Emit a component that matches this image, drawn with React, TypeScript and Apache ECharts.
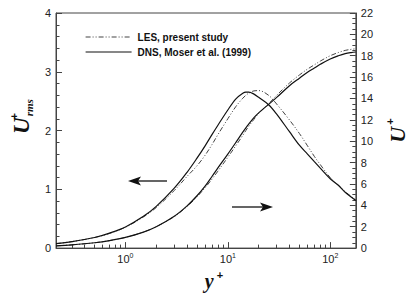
import React, { useEffect, useRef } from "react";
import * as echarts from "echarts";

const yPlus = [0.21, 0.3, 0.5, 0.7, 1, 1.5, 2, 3, 4, 5, 6, 7, 8, 10, 12, 14, 15, 16, 18, 20, 25, 30, 40, 50, 60, 70, 80, 100, 120, 140, 160, 178];

const dnsUrms = [0.075, 0.11, 0.18, 0.255, 0.36, 0.54, 0.71, 1.02, 1.29, 1.53, 1.74, 1.93, 2.09, 2.35, 2.54, 2.635, 2.655, 2.655, 2.62, 2.565, 2.44, 2.28, 1.98, 1.75, 1.6, 1.47, 1.36, 1.18, 1.07, 0.95, 0.87, 0.81];
const lesUrms = [0.075, 0.11, 0.18, 0.25, 0.355, 0.53, 0.69, 0.98, 1.22, 1.4, 1.58, 1.76, 1.93, 2.2, 2.41, 2.55, 2.6, 2.635, 2.675, 2.68, 2.6, 2.45, 2.18, 1.95, 1.74, 1.56, 1.42, 1.2, 1.07, 0.96, 0.88, 0.82];
const dnsU = [0.21, 0.3, 0.5, 0.7, 1.0, 1.5, 2.0, 2.98, 3.95, 4.9, 5.8, 6.7, 7.5, 8.8, 9.9, 10.85, 11.25, 11.6, 12.2, 12.65, 13.45, 14.1, 15.2, 15.9, 16.45, 16.85, 17.2, 17.7, 18.0, 18.2, 18.3, 18.35];
const lesU = [0.21, 0.3, 0.5, 0.7, 1.0, 1.5, 2.0, 2.95, 3.9, 4.8, 5.65, 6.45, 7.2, 8.5, 9.6, 10.55, 11.0, 11.4, 12.05, 12.6, 13.5, 14.3, 15.45, 16.2, 16.75, 17.15, 17.5, 18.0, 18.3, 18.5, 18.6, 18.65];

const xMajorTicks = [1, 10, 100];
const xMinorTicks = [0.3, 0.4, 0.5, 0.6, 0.7, 0.8, 0.9, 2, 3, 4, 5, 6, 7, 8, 9, 20, 30, 40, 50, 60, 70, 80, 90];
const legendNames = ["LES, present study", "DNS, Moser et al. (1999)"];

const pair = (xs: number[], ys: number[]) => xs.map((x, i) => [x, ys[i]]);

const AXIS_COLOR = "#444";
const SANS = "Liberation Sans, Arial, sans-serif";
const SERIF = "Liberation Serif, Times New Roman, serif";
const LES_DASH = [5, 2, 1, 2, 1, 2];

export default function App() {
  const ref = useRef<HTMLDivElement>(null);
  useEffect(() => {
    if (!ref.current) return;
    const chart = echarts.init(ref.current, null, { renderer: "svg" });
    const tickLabel = { color: "#222", fontSize: 11, fontFamily: SANS };
    const lesStyle = { color: "#444", width: 1, type: LES_DASH };
    const dnsStyle = { color: "#111", width: 1.2 };
    chart.setOption({
      animation: false,
      backgroundColor: "#fff",
      grid: { left: 54, right: 53, top: 13, bottom: 41, show: true, borderColor: AXIS_COLOR, borderWidth: 1 },
      legend: {
        data: legendNames,
        orient: "vertical",
        left: 80,
        top: 27,
        itemWidth: 46,
        itemHeight: 10,
        itemGap: 5,
        itemStyle: { opacity: 0, borderWidth: 0 },
        lineStyle: { width: 1.2 },
        textStyle: { fontSize: 10, fontWeight: "bold", fontFamily: SANS, color: "#111", padding: [0, 0, 0, 1] },
      },
      xAxis: [
        {
          type: "log",
          logBase: 10,
          min: 0.21,
          max: 178,
          position: "bottom",
          axisLine: { show: true, lineStyle: { color: AXIS_COLOR, width: 1 } },
          axisTick: { show: true, inside: true, length: 6, customValues: xMajorTicks, lineStyle: { color: AXIS_COLOR } },
          axisLabel: {
            customValues: xMajorTicks,
            margin: 4,
            formatter: (v: number) => `{b|10}{s|${Math.round(Math.log10(v))}}`,
            rich: {
              b: { ...tickLabel, fontSize: 11 },
              s: { ...tickLabel, fontSize: 7, verticalAlign: "top", padding: [0, 0, 6, 0] },
            },
          },
          splitLine: { show: false },
          minorSplitLine: { show: false },
          name: "{y|y}{p|+}",
          nameLocation: "middle",
          nameGap: 14,
          nameTextStyle: {
            padding: [0, 0, 0, 16],
            rich: {
              y: { fontFamily: SERIF, fontWeight: "bold", fontStyle: "italic", fontSize: 20, color: "#111", lineHeight: 24 },
              p: { fontFamily: SANS, fontWeight: "bold", fontSize: 11, color: "#111", verticalAlign: "top", padding: [0, 0, 0, 3] },
            },
          },
        },
        {
          type: "log",
          logBase: 10,
          min: 0.21,
          max: 178,
          position: "bottom",
          axisLine: { show: false },
          axisTick: { show: true, inside: true, length: 3.5, customValues: xMinorTicks, lineStyle: { color: AXIS_COLOR } },
          axisLabel: { show: false },
          splitLine: { show: false },
        },
      ],
      yAxis: [
        {
          type: "value",
          min: 0,
          max: 4,
          interval: 1,
          position: "left",
          axisLine: { show: true, lineStyle: { color: AXIS_COLOR } },
          axisTick: { show: true, inside: true, length: 6, lineStyle: { color: AXIS_COLOR } },
          minorTick: { show: true, splitNumber: 5, length: 3.5, lineStyle: { color: AXIS_COLOR } },
          axisLabel: { ...tickLabel, margin: 5 },
          splitLine: { show: false },
          name: "{u|U}{p|+}{r|rms}",
          nameLocation: "middle",
          nameRotate: 90,
          nameGap: 17,
          nameTextStyle: {
            padding: [0, 0, 0, 28],
            rich: {
              u: { fontFamily: SERIF, fontWeight: "bold", fontStyle: "italic", fontSize: 23, color: "#111", lineHeight: 26 },
              p: { fontFamily: SANS, fontWeight: "bold", fontSize: 11, color: "#111", verticalAlign: "top", width: 0, align: "left", padding: [0, 0, 0, 1] },
              r: { fontFamily: SERIF, fontWeight: "bold", fontStyle: "italic", fontSize: 11, color: "#111", verticalAlign: "bottom" },
            },
          },
        },
        {
          type: "value",
          min: 0,
          max: 22,
          interval: 2,
          position: "right",
          axisLine: { show: true, lineStyle: { color: AXIS_COLOR } },
          axisTick: { show: true, inside: true, length: 6, lineStyle: { color: AXIS_COLOR } },
          minorTick: { show: true, splitNumber: 4, length: 3.5, lineStyle: { color: AXIS_COLOR } },
          axisLabel: { ...tickLabel, margin: 5 },
          splitLine: { show: false },
          name: "{u|U}{p|+}",
          nameLocation: "middle",
          nameRotate: 90,
          nameGap: 26,
          nameTextStyle: {
            rich: {
              u: { fontFamily: SERIF, fontWeight: "bold", fontStyle: "italic", fontSize: 22, color: "#111", lineHeight: 26 },
              p: { fontFamily: SANS, fontWeight: "bold", fontSize: 11, color: "#111", verticalAlign: "top", padding: [0, 0, 0, 2] },
            },
          },
        },
      ],
      series: [
        { name: legendNames[0], type: "line", xAxisIndex: 0, yAxisIndex: 0, data: pair(yPlus, lesUrms), smooth: 0.35, symbol: "none", itemStyle: { color: "#444" }, lineStyle: lesStyle },
        { name: legendNames[0], type: "line", xAxisIndex: 0, yAxisIndex: 1, data: pair(yPlus, lesU), smooth: 0.35, symbol: "none", itemStyle: { color: "#444" }, lineStyle: lesStyle },
        { name: legendNames[1], type: "line", xAxisIndex: 0, yAxisIndex: 0, data: pair(yPlus, dnsUrms), smooth: 0.35, symbol: "none", itemStyle: { color: "#111" }, lineStyle: dnsStyle },
        { name: legendNames[1], type: "line", xAxisIndex: 0, yAxisIndex: 1, data: pair(yPlus, dnsU), smooth: 0.35, symbol: "none", itemStyle: { color: "#111" }, lineStyle: dnsStyle },
      ],
      graphic: [
        { type: "line", shape: { x1: 167, y1: 181, x2: 136, y2: 181 }, style: { stroke: "#111", lineWidth: 1.3 } },
        { type: "polygon", shape: { points: [[128, 181], [141, 176.5], [138, 181], [141, 185.5]] }, style: { fill: "#111" } },
        { type: "line", shape: { x1: 232, y1: 207, x2: 264, y2: 207 }, style: { stroke: "#111", lineWidth: 1.3 } },
        { type: "polygon", shape: { points: [[273, 207], [260, 202.5], [263, 207], [260, 211.5]] }, style: { fill: "#111" } },
      ],
    });
    return () => chart.dispose();
  }, []);
  return <div ref={ref} style={{ position: "fixed", left: 0, top: 0, width: 416, height: 296 }} />;
}
